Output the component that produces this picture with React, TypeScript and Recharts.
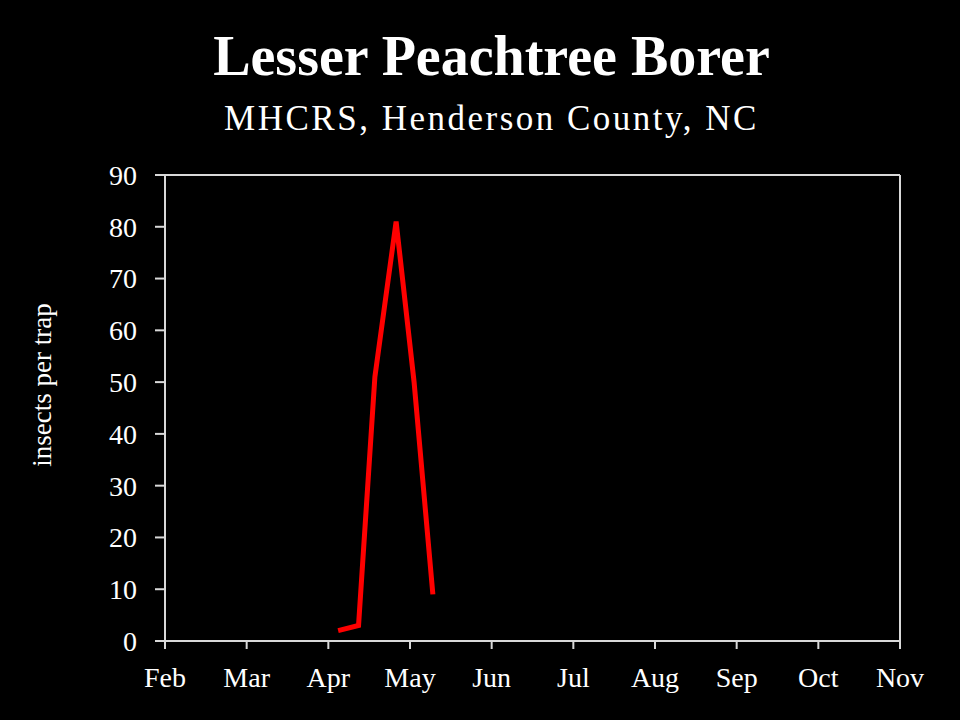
import { LineChart, Line, XAxis, YAxis, ReferenceLine } from "recharts";

// month labels at evenly spaced ticks (0 = Feb)
const MONTHS = ["Feb", "Mar", "Apr", "May", "Jun", "Jul", "Aug", "Sep", "Oct", "Nov"];
const MONTH_TICKS = [0, 1, 2, 3, 4, 5, 6, 7, 8, 9];
const Y_TICKS = [0, 10, 20, 30, 40, 50, 60, 70, 80, 90];

// trap dates as fractional month position, counts per trap
const TRAP_POS = [2.12, 2.37, 2.57, 2.83, 3.05, 3.28];
const TRAP_COUNT = [2, 3, 51, 81, 50, 9];

const data = TRAP_POS.map((x, i) => ({ x, count: TRAP_COUNT[i] }));

const FONT = "'Liberation Serif', 'DejaVu Serif', serif";
const AXIS = "#d9d9d9";

export default function App() {
  return (
    <div
      style={{
        position: "fixed",
        top: 0,
        left: 0,
        width: 960,
        height: 720,
        background: "#000",
        fontFamily: FONT,
        color: "#fff",
      }}
    >
      <div
        style={{
          position: "absolute",
          top: 24,
          left: 0,
          width: 983,
          textAlign: "center",
          fontSize: 56,
          fontWeight: "bold",
          lineHeight: "64px",
        }}
      >
        Lesser Peachtree Borer
      </div>
      <div
        style={{
          position: "absolute",
          top: 99,
          left: 0,
          width: 983,
          textAlign: "center",
          fontSize: 35,
          lineHeight: "40px",
          letterSpacing: 2.5,
        }}
      >
        MHCRS, Henderson County, NC
      </div>
      <div
        style={{
          position: "absolute",
          left: 42,
          top: 385,
          transform: "translate(-50%, -50%) rotate(-90deg)",
          fontSize: 27,
          whiteSpace: "nowrap",
        }}
      >
        insects per trap
      </div>
      <LineChart
        width={960}
        height={720}
        data={data}
        margin={{ top: 175, right: 60, bottom: 0, left: 65 }}
        style={{ position: "absolute", top: 0, left: 0 }}
      >
        <XAxis
          dataKey="x"
          type="number"
          domain={[0, 9]}
          ticks={MONTH_TICKS}
          tickFormatter={(v) => MONTHS[v]}
          interval={0}
          stroke={AXIS}
          strokeWidth={2}
          tickSize={8}
          tickMargin={18}
          tick={{ fill: "#fff", fontSize: 28, fontFamily: FONT }}
          height={79}
        />
        <YAxis
          type="number"
          domain={[0, 90]}
          ticks={Y_TICKS}
          interval={0}
          stroke={AXIS}
          strokeWidth={2}
          tickSize={10}
          tickMargin={18}
          width={100}
          tick={{ fill: "#fff", fontSize: 28, fontFamily: FONT }}
        />
        <ReferenceLine y={90} stroke={AXIS} strokeWidth={2} />
        <ReferenceLine x={9} stroke={AXIS} strokeWidth={2} />
        <Line
          dataKey="count"
          stroke="#ff0000"
          strokeWidth={5}
          dot={false}
          isAnimationActive={false}
        />
      </LineChart>
    </div>
  );
}
